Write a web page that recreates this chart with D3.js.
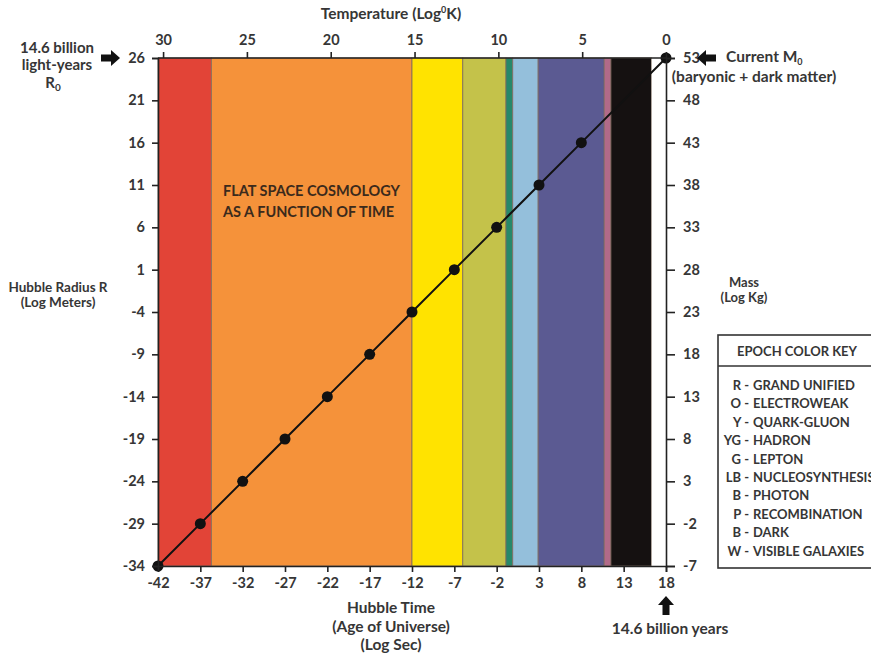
<!DOCTYPE html>
<html>
  <head>
    <meta charset="UTF-8" />
    <title>Flat Space Cosmology</title>
    <script src="https://d3js.org/d3.v7.min.js"></script>
    <style>
      body { margin: 0; background: #fff; }
      svg text { font-family: Lato, "Open Sans", sans-serif; font-weight: bold; fill: #363636; }
      .axis path, .axis line { stroke: #222; stroke-width: 1.6; }
      .axis text { font-size: 14.5px; }
    </style>
  </head>
  <body>
    <div id="chart"></div>
    <script>
      // Eixo de tempo (log seg) e raio de Hubble (log m)
      var timeTicks = [-42, -37, -32, -27, -22, -17, -12, -7, -2, 3, 8, 13, 18];
      var radiusTicks = [26, 21, 16, 11, 6, 1, -4, -9, -14, -19, -24, -29, -34];
      var massTicks = [53, 48, 43, 38, 33, 28, 23, 18, 13, 8, 3, -2, -7];
      var tempTicks = [30, 25, 20, 15, 10, 5, 0];

      // Epocas: inicio e fim em log seg
      var epochStart = [-42, -35.7, -12, -6, -0.9, -0.1, 2.9, 10.7, 11.5, 16.3];
      var epochEnd = [-35.7, -12, -6, -0.9, -0.1, 2.9, 10.7, 11.5, 16.3, 18];
      var epochColors = ["#e24437", "#f5923a", "#ffe300", "#c4c24a", "#27886a",
        "#94bfdb", "#5b5a92", "#b26a89", "#151111", "#ffffff"];

      // Pontos da linha (log seg, log m)
      var pointTime = [-42, -37, -32, -27, -22, -17, -12, -7, -2, 3, 8, 18];
      var pointRadius = [-34, -29, -24, -19, -14, -9, -4, 1, 6, 11, 16, 26];

      // Legenda
      var keyCodes = ["R -", "O -", "Y -", "YG -", "G -", "LB -", "B -", "P -", "B -", "W -"];
      var keyNames = ["GRAND UNIFIED", "ELECTROWEAK", "QUARK-GLUON", "HADRON", "LEPTON",
        "NUCLEOSYNTHESIS", "PHOTON", "RECOMBINATION", "DARK", "VISIBLE GALAXIES"];

      var W = 871, H = 657;
      var svg = d3.select("#chart").append("svg").attr("width", W).attr("height", H);

      var x = d3.scaleLinear().domain([-42, 18]).range([158, 666]);
      var y = d3.scaleLinear().domain([-34, 26]).range([566, 58]);
      var yMass = d3.scaleLinear().domain([-7, 53]).range([566, 58]);
      var xTemp = d3.scaleLinear().domain([30, 0]).range([x(-41.4), x(18)]);
      var fmt = (d) => String(d);

      // Faixas coloridas
      svg.selectAll(".band")
        .data(epochStart)
        .enter()
        .append("rect")
        .attr("class", "band")
        .attr("x", (d) => x(d))
        .attr("y", y(26))
        .attr("width", (d, i) => x(epochEnd[i]) - x(d))
        .attr("height", y(-34) - y(26))
        .attr("fill", (d, i) => epochColors[i])
        .attr("stroke", (d, i) => (i === 9 ? "none" : "#7d6a5c"))
        .attr("stroke-width", 0.8);

      // Linha e pontos
      var pts = pointTime.map((t, i) => [t, pointRadius[i]]);
      svg.append("path")
        .datum(pts)
        .attr("fill", "none")
        .attr("stroke", "#111")
        .attr("stroke-width", 2)
        .attr("d", d3.line().x((d) => x(d[0])).y((d) => y(d[1])));

      svg.selectAll(".pt")
        .data(pts)
        .enter()
        .append("circle")
        .attr("class", "pt")
        .attr("cx", (d) => x(d[0]))
        .attr("cy", (d) => y(d[1]))
        .attr("r", 5.5)
        .attr("fill", "#111");

      // Eixos
      svg.append("g").attr("class", "axis")
        .attr("transform", "translate(0," + y(-34) + ")")
        .call(d3.axisBottom(x).tickValues(timeTicks).tickFormat(fmt).tickSizeOuter(0).tickSize(6).tickPadding(6));

      svg.append("g").attr("class", "axis")
        .attr("transform", "translate(" + x(-42) + ",0)")
        .call(d3.axisLeft(y).tickValues(radiusTicks).tickFormat(fmt).tickSizeOuter(0).tickSize(6).tickPadding(7));

      svg.append("g").attr("class", "axis")
        .attr("transform", "translate(" + x(18) + ",0)")
        .call(d3.axisRight(yMass).tickValues(massTicks).tickFormat(fmt).tickSizeOuter(0).tickSize(9).tickPadding(8));

      var topAxis = svg.append("g").attr("class", "axis")
        .attr("transform", "translate(0," + y(26) + ")")
        .call(d3.axisTop(xTemp).tickValues(tempTicks).tickFormat(fmt).tickSizeOuter(0).tickSize(6).tickPadding(7));
      topAxis.select(".domain").attr("d", "M" + x(-42) + ",0H" + x(18));

      // Textos
      function label(lines, cx, cy, size, dy) {
        var t = svg.append("text").attr("text-anchor", "middle").style("font-size", size + "px");
        lines.forEach((l, i) => t.append("tspan").attr("x", cx).attr("y", cy + i * dy).text(l));
        return t;
      }

      var title = svg.append("text").attr("x", 391).attr("y", 19).attr("text-anchor", "middle").style("font-size", "15.5px");
      title.append("tspan").text("Temperature  (Log");
      title.append("tspan").attr("dy", -6).style("font-size", "9px").text("0");
      title.append("tspan").attr("dy", 6).text("K)");

      label(["14.6 billion", "light-years"], 57, 53, 15, 17);
      var r0 = svg.append("text").attr("x", 53).attr("y", 88).attr("text-anchor", "middle").style("font-size", "15px");
      r0.append("tspan").text("R");
      r0.append("tspan").attr("dy", 3).style("font-size", "10px").text("0");

      var m0 = svg.append("text").attr("x", 726).attr("y", 62).style("font-size", "15.5px");
      m0.append("tspan").text("Current M");
      m0.append("tspan").attr("dy", 3).style("font-size", "9px").text("0");
      label(["(baryonic + dark matter)"], 754, 82, 15.5, 0);

      label(["Hubble Radius R", "(Log Meters)"], 58, 292, 13.5, 15);
      label(["Mass", "(Log Kg)"], 744, 287, 13, 15);
      label(["Hubble Time", "(Age of Universe)", "(Log Sec)"], 391, 613, 15.5, 18.5);
      label(["14.6 billion years"], 670, 634, 15.5, 0);

      svg.append("text").attr("x", 223).attr("y", 196).style("font-size", "14.5px").style("fill", "#3b2a1c").text("FLAT SPACE COSMOLOGY");
      svg.append("text").attr("x", 223).attr("y", 217).style("font-size", "14.5px").style("fill", "#3b2a1c").text("AS A FUNCTION OF TIME");

      // Setas
      function arrow(cx, cy, angle) {
        svg.append("path")
          .attr("d", "M-9,-3.5H1V-8L10,0L1,8V3.5H-9Z")
          .attr("fill", "#111")
          .attr("transform", "translate(" + cx + "," + cy + ") rotate(" + angle + ")");
      }
      arrow(110, y(26), 0);
      arrow(707, y(26), 180);
      arrow(x(18), 606, -90);

      // Legenda (cortada na borda direita, como no original)
      var key = svg.append("g");
      key.append("rect").attr("x", 718).attr("y", 335).attr("width", 170).attr("height", 233)
        .attr("fill", "#fff").attr("stroke", "#333").attr("stroke-width", 1.6);
      key.append("line").attr("x1", 718).attr("x2", 871).attr("y1", 366).attr("y2", 366)
        .attr("stroke", "#333").attr("stroke-width", 1.6);
      key.append("text").attr("x", 797).attr("y", 356).attr("text-anchor", "middle")
        .style("font-size", "13px").text("EPOCH COLOR KEY");
      key.selectAll(".code").data(keyCodes).enter().append("text")
        .attr("x", 749).attr("y", (d, i) => 390 + i * 18.4)
        .attr("text-anchor", "end").style("font-size", "13px").text((d) => d);
      key.selectAll(".name").data(keyNames).enter().append("text")
        .attr("x", 753).attr("y", (d, i) => 390 + i * 18.4)
        .style("font-size", "13px").text((d) => d);
    </script>
  </body>
</html>
